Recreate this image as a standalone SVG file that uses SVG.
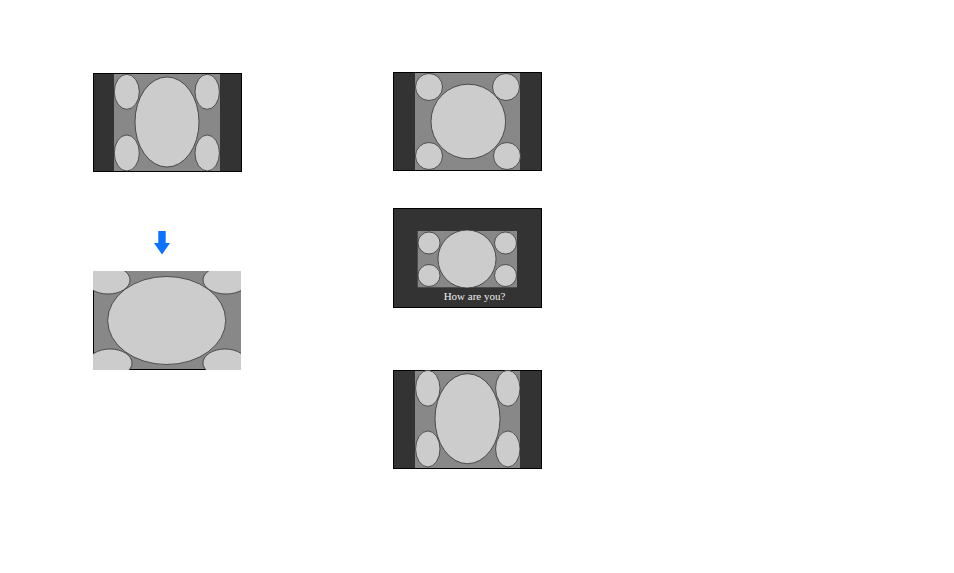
<svg xmlns="http://www.w3.org/2000/svg" width="954" height="573" viewBox="0 0 954 573">
<defs>
<style>
.frame{fill:#333333;stroke:#000;stroke-width:1}
.mid{fill:#888888}
.sh{fill:#cccccc;stroke:#333333;stroke-width:0.8}
.cap{font-family:"Liberation Serif","Times New Roman",serif;font-size:11px;fill:#eeeeee}
</style>
<clipPath id="c2"><rect x="93" y="271" width="148" height="99"/></clipPath>
</defs>
<rect width="954" height="573" fill="#ffffff"/>
<g id="panel-top-left">
<rect class="frame" x="93.5" y="73.5" width="148" height="98"/>
<rect class="mid" x="114" y="74" width="106" height="97"/>
<ellipse class="sh" cx="167" cy="122" rx="32" ry="45"/>
<ellipse class="sh" cx="126.8" cy="91.8" rx="12.5" ry="17.5"/>
<ellipse class="sh" cx="126.8" cy="153" rx="12.5" ry="18"/>
<ellipse class="sh" cx="207.2" cy="91.8" rx="12.2" ry="17.5"/>
<ellipse class="sh" cx="207.2" cy="153" rx="12.2" ry="18"/>
</g>
<g id="panel-bottom-left">
<rect class="mid" x="93" y="271" width="148" height="99"/>
<path d="M93.5 271 V369.5 H241" fill="none" stroke="#000" stroke-width="1"/>
<g clip-path="url(#c2)">
<ellipse class="sh" cx="166.7" cy="320.5" rx="59" ry="44"/>
<ellipse class="sh" cx="108" cy="280" rx="22" ry="14"/>
<ellipse class="sh" cx="226" cy="280" rx="23" ry="14"/>
<ellipse class="sh" cx="110" cy="363" rx="22" ry="14"/>
<ellipse class="sh" cx="225" cy="363" rx="22" ry="14"/>
</g>
</g>
<g id="panel-right-1">
<rect class="frame" x="393.5" y="72.5" width="148" height="98"/>
<rect class="mid" x="415" y="73" width="105" height="97"/>
<circle class="sh" cx="468.3" cy="121.5" r="37.3"/>
<circle class="sh" cx="429" cy="87" r="13.5"/>
<circle class="sh" cx="429" cy="156" r="13.5"/>
<circle class="sh" cx="506" cy="87" r="13.5"/>
<circle class="sh" cx="507" cy="156" r="13.5"/>
</g>
<g id="panel-right-2">
<rect class="frame" x="393.5" y="208.5" width="148" height="99"/>
<rect class="mid" x="417.7" y="231" width="99.3" height="56.3"/>
<circle class="sh" cx="467" cy="259" r="29"/>
<circle class="sh" cx="429" cy="243" r="11"/>
<circle class="sh" cx="429" cy="275.5" r="11"/>
<circle class="sh" cx="505.5" cy="243" r="11"/>
<circle class="sh" cx="505.5" cy="275.5" r="11"/>
<text class="cap" x="474.5" y="300" text-anchor="middle">How are you?</text>
</g>
<g id="panel-right-3">
<rect class="frame" x="393.5" y="370.5" width="148" height="98"/>
<rect class="mid" x="415" y="371" width="105" height="97"/>
<ellipse class="sh" cx="467.5" cy="418.7" rx="32.5" ry="45"/>
<ellipse class="sh" cx="427.8" cy="388.3" rx="12.2" ry="18"/>
<ellipse class="sh" cx="427.8" cy="449" rx="12.2" ry="18"/>
<ellipse class="sh" cx="507.8" cy="388.3" rx="12.2" ry="18"/>
<ellipse class="sh" cx="507.8" cy="449" rx="12.2" ry="18"/>
</g>
<g id="connectors">
<path d="M158.3 231 H165.7 V243 H170 L162 254.5 L154 243 H158.3 Z" fill="#0a72ff"/>
</g>
</svg>
